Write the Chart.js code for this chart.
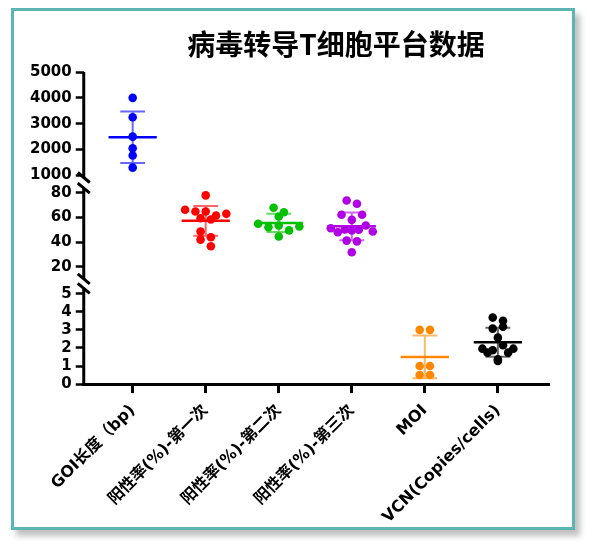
<!DOCTYPE html>
<html lang="zh">
<head>
<meta charset="utf-8">
<title>病毒转导T细胞平台数据</title>
<script src="https://cdn.jsdelivr.net/npm/chart.js@4.4.1/dist/chart.umd.min.js"></script>
<style>
  html, body { margin: 0; padding: 0; background: #fff; }
  body { width: 590px; height: 546px; position: relative; overflow: hidden; }
  .frame {
    position: absolute; left: 11px; top: 8px; width: 558px; height: 516px;
    border: 3px solid #5bb5b4; background: #fff;
    box-shadow: 5px 6px 6px rgba(0, 0, 0, 0.25);
  }
  #chart { position: absolute; left: 0; top: 0; }
</style>
</head>
<body>
<div class="frame"></div>
<canvas id="chart" width="590" height="546"></canvas>
<script>
const TITLE = '病毒转导T细胞平台数据';
const CATEGORIES = ['GOI长度（bp)', '阳性率(%)-第一次', '阳性率(%)-第二次', '阳性率(%)-第三次', 'MOI', 'VCN(Copies/cells)'];

const GOI_LENGTH = [4000, 3250, 2500, 2050, 1770, 1300];
const POSITIVE_1 = [78, 66.3, 64.9, 64.9, 61.6, 63, 59.4, 58.4, 48.6, 43.9, 42, 36.6];
const POSITIVE_2 = [67.9, 64.3, 60.8, 54.9, 52.1, 53.5, 49.5, 52.7, 44.5];
const POSITIVE_3 = [73.9, 71.2, 62.2, 58.1, 62.2, 51.3, 48, 50.2, 49.4, 50, 53.5, 48.6, 41.2, 40.6, 31.7];
const MOI = [3, 3, 1, 1, 0.5, 0.5];
const VCN = [3.68, 3.5, 3.07, 3.17, 2.57, 1.96, 1.87, 2.15, 1.96, 1.74, 1.37, 1.74, 1.28];

const TOP_TICKS = [1000, 2000, 3000, 4000, 5000];
const MID_TICKS = [20, 40, 60, 80];
const LOW_TICKS = [0, 1, 2, 3, 4, 5];

const GROUPS = [
  { values: GOI_LENGTH, axis: 'yTop', color: '#0000ff' },
  { values: POSITIVE_1, axis: 'yMid', color: '#ff0000' },
  { values: POSITIVE_2, axis: 'yMid', color: '#00c000' },
  { values: POSITIVE_3, axis: 'yMid', color: '#b000e6' },
  { values: MOI, axis: 'yLow', color: '#ff8800' },
  { values: VCN, axis: 'yLow', color: '#000000' },
];

// axis line pieces of the broken y axis, with a slash where a piece is cut
const SEGMENTS = [
  { axis: 'yTop', from: 920, to: 5000, cutFrom: true, cutTo: false },
  { axis: 'yMid', from: 10, to: 84, cutFrom: true, cutTo: true },
  { axis: 'yLow', from: 0, to: 5.3, cutFrom: false, cutTo: true },
];

const FONT = "'DejaVu Sans', 'Noto Sans CJK SC', sans-serif";
const MEAN_HALF = 0.33;
const CAP_HALF = 0.17;
const ROW_PX = 6.9;
const SLOT_PX = 10.3;
const SPREAD_PX = 42;

function alpha(hex, a) {
  const n = parseInt(hex.slice(1), 16);
  return `rgba(${n >> 16}, ${(n >> 8) & 255}, ${n & 255}, ${a})`;
}

function mean(values) {
  return values.reduce((s, v) => s + v, 0) / values.length;
}

function sd(values) {
  const m = mean(values);
  return Math.sqrt(values.reduce((s, v) => s + (v - m) ** 2, 0) / (values.length - 1));
}

function yAxis(min, max, ticks, weight) {
  return {
    type: 'linear',
    position: 'left',
    stack: 'y',
    stackWeight: weight,
    min,
    max,
    afterBuildTicks: (scale) => { scale.ticks = ticks.map((value) => ({ value })); },
    ticks: {
      autoSkip: false,
      padding: 4,
      color: '#000',
      font: { family: FONT, size: 15, weight: 'bold' },
      callback: (v) => String(v),
    },
    grid: { drawOnChartArea: false, tickLength: 8, tickWidth: 2.5, tickColor: '#000' },
    border: { display: false },
  };
}

const datasets = [];
GROUPS.forEach((g, k) => {
  const m = mean(g.values);
  const s = sd(g.values);
  g.pointIndex = datasets.length;
  datasets.push({
    data: g.values.map((v) => ({ x: k, y: v })),
    yAxisID: g.axis,
    backgroundColor: g.color,
    borderWidth: 0,
    pointRadius: 4.3,
    pointHoverRadius: 4.3,
    order: 1,
  });
  datasets.push({
    data: [
      { x: k - CAP_HALF, y: m + s }, { x: k + CAP_HALF, y: m + s }, { x: k, y: null },
      { x: k, y: m + s }, { x: k, y: m - s }, { x: k, y: null },
      { x: k - CAP_HALF, y: m - s }, { x: k + CAP_HALF, y: m - s },
    ],
    yAxisID: g.axis,
    showLine: true,
    spanGaps: false,
    borderColor: alpha(g.color, 0.6),
    borderWidth: 2,
    pointRadius: 0,
    order: 2,
  });
  datasets.push({
    data: [{ x: k - MEAN_HALF, y: m }, { x: k + MEAN_HALF, y: m }],
    yAxisID: g.axis,
    showLine: true,
    borderColor: g.color,
    borderWidth: 2.5,
    pointRadius: 0,
    order: 0,
  });
});

const titlePlugin = {
  id: 'plotTitle',
  afterDraw(chart) {
    const ctx = chart.ctx;
    ctx.save();
    ctx.font = "bold 28px 'Noto Sans CJK SC', sans-serif";
    ctx.fillStyle = '#000';
    ctx.textAlign = 'center';
    ctx.textBaseline = 'middle';
    ctx.fillText(TITLE, 336, 44);
    ctx.restore();
  },
};

const brokenAxis = {
  id: 'brokenAxis',
  afterDraw(chart) {
    const ctx = chart.ctx;
    const x = chart.chartArea.left;
    ctx.save();
    ctx.strokeStyle = '#000';
    ctx.lineWidth = 3;
    SEGMENTS.forEach((seg) => {
      const scale = chart.scales[seg.axis];
      const y1 = scale.getPixelForValue(seg.from);
      const y2 = scale.getPixelForValue(seg.to);
      ctx.beginPath();
      ctx.moveTo(x, seg.cutFrom ? y1 : y1 + 1.5);
      ctx.lineTo(x, y2);
      ctx.stroke();
      [[seg.cutFrom, y1], [seg.cutTo, y2]].forEach(([cut, y]) => {
        if (!cut) return;
        ctx.beginPath();
        ctx.moveTo(x - 6, y - 5);
        ctx.lineTo(x + 6, y + 5);
        ctx.stroke();
      });
    });
    ctx.restore();
  },
};

// spread points that sit close together into centred rows
function swarmOffsets(chart, values, axisId) {
  const ys = chart.scales[axisId];
  const xs = chart.scales.x;
  const pxPerUnit = xs.getPixelForValue(1) - xs.getPixelForValue(0);
  const items = values
    .map((v, i) => ({ i, py: ys.getPixelForValue(v) }))
    .sort((a, b) => a.py - b.py || a.i - b.i);
  const rows = [];
  items.forEach((it) => {
    const row = rows[rows.length - 1];
    if (row && it.py - row[0].py < ROW_PX) row.push(it);
    else rows.push([it]);
  });
  const dx = values.map(() => 0);
  rows.forEach((row) => {
    row.sort((a, b) => a.i - b.i);
    const n = row.length;
    const step = n > 1 ? Math.min(SLOT_PX, SPREAD_PX / (n - 1)) : 0;
    row.forEach((it, j) => { dx[it.i] = ((j - (n - 1) / 2) * step) / pxPerUnit; });
  });
  return dx;
}

const chart = new Chart(document.getElementById('chart'), {
  type: 'scatter',
  data: { datasets },
  plugins: [titlePlugin, brokenAxis],
  options: {
    responsive: false,
    animation: false,
    events: [],
    layout: { padding: { left: 26, right: 41, top: 72, bottom: 11 } },
    plugins: { legend: { display: false }, tooltip: { enabled: false } },
    scales: {
      // stacked scales are placed bottom-up in the order listed
      yLow: yAxis(0, 5.58, LOW_TICKS, 100.5),
      yMid: yAxis(6.5, 89, MID_TICKS, 101),
      yTop: yAxis(750, 5000, TOP_TICKS, 109.5),
      x: {
        type: 'linear',
        min: -0.67,
        max: 5.7,
        afterBuildTicks: (scale) => { scale.ticks = CATEGORIES.map((_, i) => ({ value: i })); },
        ticks: {
          autoSkip: false,
          minRotation: 45,
          maxRotation: 45,
          padding: 8,
          color: '#000',
          font: { family: FONT, size: 16, weight: 'bold' },
          callback: (v) => CATEGORIES[v] ?? '',
        },
        grid: { drawOnChartArea: false, tickLength: 9, tickWidth: 3, tickColor: '#000' },
        border: { display: true, width: 3, color: '#000' },
      },
    },
  },
});

GROUPS.forEach((g, k) => {
  const dx = swarmOffsets(chart, g.values, g.axis);
  chart.data.datasets[g.pointIndex].data = g.values.map((v, i) => ({ x: k + dx[i], y: v }));
});
chart.update('none');
</script>
</body>
</html>
